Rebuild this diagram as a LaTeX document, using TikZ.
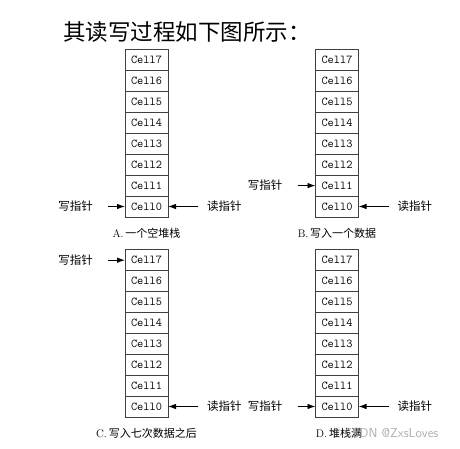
\documentclass[tikz,border=0pt]{standalone}
\usepackage{fontspec}
\newfontfamily\cjk{Noto Sans CJK SC}
\usetikzlibrary{positioning, calc, arrows.meta}
\tikzset{cell/.style={draw=black!75, line width=0.8pt, minimum width=43pt, minimum height=20.9pt, inner sep=0pt, outer sep=0pt, font=\fontsize{12}{12}\selectfont\ttfamily},
tag/.style={inner sep=0pt, font=\cjk\fontsize{11.5}{12}\selectfont},
caption/.style={inner sep=0pt, font=\fontsize{11}{12}\selectfont},
line/.style={-{Latex[length=8pt,width=5.5pt]}, line width=0.9pt}
}

\begin{document}
\begin{tikzpicture}
\useasboundingbox (0,0) rectangle (460pt,449pt);

\node[anchor=west, inner sep=0pt, font=\cjk\fontsize{22.5}{24}\selectfont] (title) at (63pt,417pt) {其读写过程如下图所示：};

% the four stacks
\foreach \s/\x/\y in {A/146.5/242.5, B/337/242.5, C/146.5/42.5, D/337/42.5}{
  \node[cell] (\s0) at (\x pt,\y pt) {Cell0};
  \foreach \i [count=\j from 0] in {1,...,7}
    \node[cell, above=0pt of \s\j] (\s\i) {Cell\i};
}

% A
\node[tag, left=32pt of A0] (wA) {写指针};
\node[tag, right=39pt of A0] (rA) {读指针};
\draw[line, shorten <=15pt] (wA) -- (A0);
\draw[line, shorten <=9pt] (rA) -- (A0);
\node[caption, below=11pt of A0] (capA) {A.\,{\cjk 一个空堆栈}};

% B
\node[tag, left=33pt of B1] (wB) {写指针};
\node[tag, right=39pt of B0] (rB) {读指针};
\draw[line, shorten <=15pt] (wB) -- (B1);
\draw[line, shorten <=9pt] (rB) -- (B0);
\node[caption, below=11pt of B0] (capB) {B.\,{\cjk 写入一个数据}};

% C
\node[tag, left=32pt of C7] (wC) {写指针};
\node[tag, right=39pt of C0] (rC) {读指针};
\draw[line, shorten <=15pt] (wC) -- (C7);
\draw[line, shorten <=9pt] (rC) -- (C0);
\node[caption, below=11pt of C0] (capC) {C.\,{\cjk 写入七次数据之后}};

% D
\node[tag, left=33pt of D0] (wD) {写指针};
\node[tag, right=39pt of D0] (rD) {读指针};
\draw[line, shorten <=15pt] (wD) -- (D0);
\draw[line, shorten <=9pt] (rD) -- (D0);
\node[caption, below=11pt of D0, xshift=2pt] (capD) {D.\,{\cjk 堆栈满}};

\node[anchor=west, inner sep=0pt, text=black!40, opacity=0.8, font=\sffamily\fontsize{13}{14}\selectfont] (mark) at (344pt,16pt) {CSDN @ZxsLoves};
\end{tikzpicture}
\end{document}
